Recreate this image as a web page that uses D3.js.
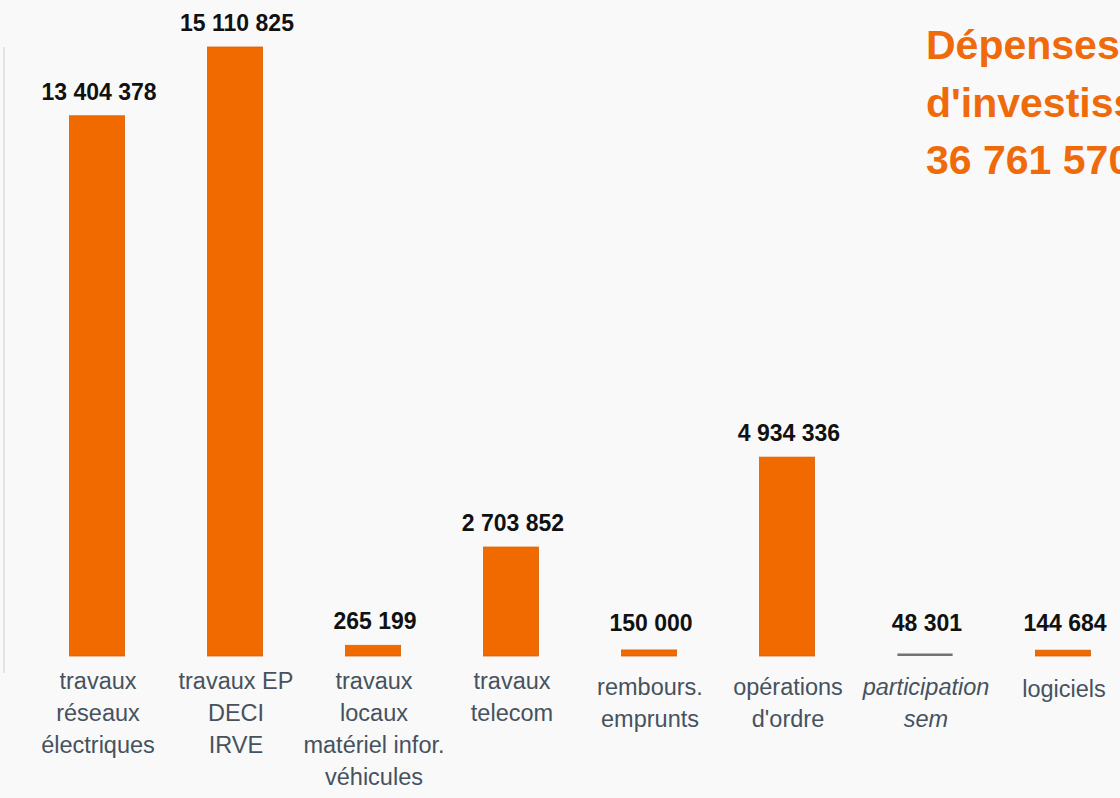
<!DOCTYPE html>
<html>
<head>
<meta charset="utf-8">
<script src="https://cdn.jsdelivr.net/npm/d3@7"></script>
<style>
    html, body { margin: 0; padding: 0; background: #f9f9f9; overflow: hidden; }
    svg { display: block; font-family: "Liberation Sans", Arial, sans-serif; }
</style>
</head>
<body>
<div id="chart"></div>
<script>
// categories (each label split in lines), values, colours
const categories = [
    ['travaux', 'réseaux', 'électriques'],
    ['travaux EP', 'DECI', 'IRVE'],
    ['travaux', 'locaux', 'matériel infor.', 'véhicules'],
    ['travaux', 'telecom'],
    ['rembours.', 'emprunts'],
    ['opérations', "d'ordre"],
    ['participation', 'sem'],
    ['logiciels']
];
const values = [13404378, 15110825, 265199, 2703852, 150000, 4934336, 48301, 144684];
const italicCats = [false, false, false, false, false, false, true, false];
const barColors = ['#f06a00', '#f06a00', '#f06a00', '#f06a00', '#f06a00', '#f06a00', '#737373', '#f06a00'];
const labelTop = [682, 682, 682, 682, 688, 688, 688, 690];
const titleLines = ['Dépenses', "d'investissement", '36 761 570 €'];

const W = 1120, H = 798;
const baseY = 656;

const svg = d3.select('#chart')
    .append('svg')
    .attr('width', W)
    .attr('height', H);

const x = d3.scaleBand()
    .domain(d3.range(values.length))
    .range([28, 1132])
    .paddingInner(0.6)
    .paddingOuter(0.3);

const y = d3.scaleLinear()
    .domain([0, 15110825])
    .range([baseY, 47]);

// faint left axis line
svg.append('line')
    .attr('x1', 4).attr('x2', 4)
    .attr('y1', 47).attr('y2', 673)
    .style('stroke', '#e4e4e4')
    .style('stroke-width', 2);

const fmt = v => d3.format(',')(v).replace(/,/g, ' ');

svg.append('g')
    .selectAll('rect')
    .data(values)
    .enter()
    .append('rect')
    .attr('x', (d, i) => x(i))
    .attr('y', d => Math.min(y(d), baseY - 2.5))
    .attr('width', x.bandwidth())
    .attr('height', d => Math.max(baseY - y(d), 2.5))
    .style('fill', (d, i) => barColors[i])
    .style('stroke', (d, i) => i === 6 ? 'none' : '#dc6205')
    .style('stroke-width', 0.8);

// value labels
svg.append('g')
    .selectAll('text')
    .data(values)
    .enter()
    .append('text')
    .attr('x', (d, i) => x(i) + x.bandwidth() / 2 + 2)
    .attr('y', d => Math.min(y(d) - 16, 631))
    .attr('text-anchor', 'middle')
    .style('font-size', '23px')
    .style('font-weight', 'bold')
    .style('fill', '#111')
    .text(d => fmt(d));

// category labels
categories.forEach((lines, i) => {
    const t = svg.append('text')
        .attr('text-anchor', 'middle')
        .style('font-size', '23.5px')
        .style('font-style', italicCats[i] ? 'italic' : 'normal')
        .style('fill', '#46525e');
    lines.forEach((line, j) => {
        t.append('tspan')
            .attr('x', x(i) + x.bandwidth() / 2 + 1)
            .attr('y', labelTop[i] + 7 + j * 32)
            .text(line);
    });
});

// title (runs past the right edge, as in the original)
const title = svg.append('text')
    .style('font-size', '41px')
    .style('font-weight', 'bold')
    .style('fill', '#ef6a0a');
titleLines.forEach((line, j) => {
    title.append('tspan')
        .attr('x', 926)
        .attr('y', 59 + j * 57.5)
        .text(line);
});
</script>
</body>
</html>
